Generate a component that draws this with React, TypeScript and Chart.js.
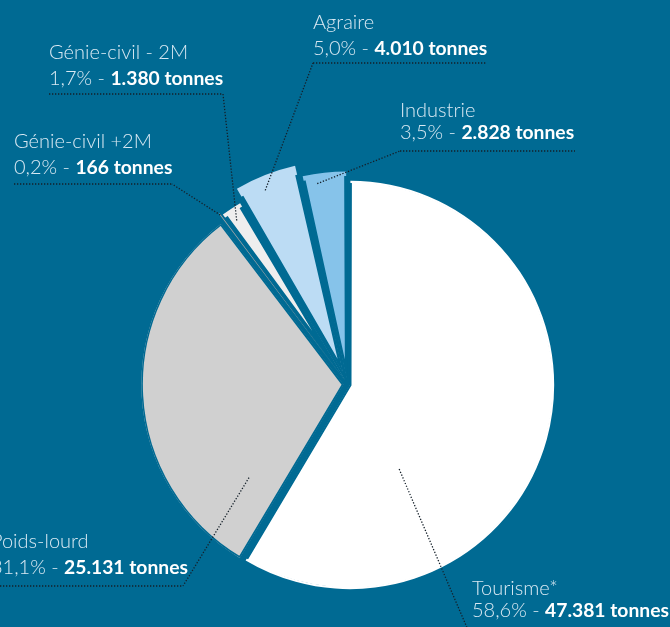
import React, { useEffect, useRef } from "react";
import { Chart, registerables } from "chart.js";

Chart.register(...registerables);

// ---- data ----
const categories = ["Tourisme*", "Poids-lourd", "Génie-civil +2M", "Génie-civil - 2M", "Agraire", "Industrie"];
const tonnes = [47381, 25131, 166, 1380, 4010, 2828];

// ---- styles ----
const BG = "#006a93";
const sliceColors = ["#ffffff", "#d0d0d0", "#a8a8a8", "#eeeeee", "#bcdcf4", "#86c3ea"];
const sliceOffsets = [10, 17, 24, 19, 55, 25];
const sliceBorders = [1.5, 1.5, 0, 3, 2, 2];

// label layout (text block positions, leader anchor inside each slice)
const labelX = [472, -9, 14, 49, 313, 400];
const nameBaseline = [595, 548, 148, 59, 29, 116.5];
const valueBaseline = [616.5, 574, 174, 85, 55, 138.5];
const underlineY = [630, 586, 184, 94, 63, 151];
const underlineX1 = [468, -9, 14, 49, 313, 400];
const underlineX2 = [668, 183, 172, 223, 486, 575];
const joinX = [468, 183, 172, 223, 313, 400];
const anchorAngleFrac = [0.71, 0.13, 0.5, 0.4, 0.41, 0.31];
const anchorRadiusFrac = [0.48, 0.66, 0.99, 0.95, 0.94, 0.96];

const total = tonnes.reduce((a, b) => a + b, 0);
const fmtPct = (v: number) => ((v / total) * 100).toFixed(1).replace(".", ",") + "%";
const fmtT = (v: number) => String(v).replace(/\B(?=(\d{3})+(?!\d))/g, ".") + " tonnes";

const FONT_FAMILY = "Lato, 'Open Sans', sans-serif";

const labelPlugin = {
  id: "sliceLabels",
  afterDatasetsDraw(chart: any) {
    const ctx: CanvasRenderingContext2D = chart.ctx;
    const meta = chart.getDatasetMeta(0);
    ctx.save();
    meta.data.forEach((arc: any, i: number) => {
      const p = arc.getProps(["x", "y", "startAngle", "endAngle", "outerRadius", "circumference"], true);
      const opts = arc.options;
      const t = (opts.offset || 0) / 4;
      const mid = (p.startAngle + p.endAngle) / 2;
      const cx = p.x + Math.cos(mid) * t;
      const cy = p.y + Math.sin(mid) * t;
      const fix = 1 - Math.sin(Math.min(Math.PI, p.circumference));
      const rr = p.outerRadius + t * fix - (opts.borderWidth || 0);
      const a = p.startAngle + (p.endAngle - p.startAngle) * anchorAngleFrac[i];
      const ax = cx + Math.cos(a) * rr * anchorRadiusFrac[i];
      const ay = cy + Math.sin(a) * rr * anchorRadiusFrac[i];

      // leader + underline
      ctx.beginPath();
      ctx.setLineDash([1.3, 1.7]);
      ctx.lineWidth = 1.3;
      ctx.strokeStyle = "#15202a";
      ctx.moveTo(ax, ay);
      ctx.lineTo(joinX[i], underlineY[i]);
      ctx.stroke();
      ctx.beginPath();
      ctx.moveTo(underlineX1[i], underlineY[i]);
      ctx.lineTo(underlineX2[i], underlineY[i]);
      ctx.stroke();
      ctx.setLineDash([]);

      // text
      ctx.textAlign = "left";
      ctx.textBaseline = "alphabetic";
      ctx.font = `300 20px ${FONT_FAMILY}`;
      ctx.fillStyle = "#d9e9f3";
      ctx.fillText(categories[i], labelX[i], nameBaseline[i]);
      const pre = fmtPct(tonnes[i]) + " - ";
      ctx.fillText(pre, labelX[i], valueBaseline[i]);
      const w = ctx.measureText(pre).width;
      ctx.font = `700 19.3px ${FONT_FAMILY}`;
      ctx.fillStyle = "#ffffff";
      ctx.fillText(fmtT(tonnes[i]), labelX[i] + w, valueBaseline[i]);
    });
    ctx.restore();
  },
};

export default function App() {
  const ref = useRef<HTMLCanvasElement | null>(null);

  useEffect(() => {
    document.body.style.margin = "0";
    document.body.style.background = BG;
    if (!ref.current) return;
    const chart = new Chart(ref.current, {
      type: "pie",
      data: {
        labels: categories,
        datasets: [
          {
            data: tonnes,
            backgroundColor: sliceColors,
            borderColor: BG,
            borderWidth: sliceBorders,
            borderAlign: "inner",
            offset: sliceOffsets,
            clip: false,
          } as any,
        ],
      },
      options: {
        responsive: false,
        animation: false,
        radius: 202,
        rotation: 0,
        events: [],
        layout: { padding: { left: 25.2, right: 0, top: 141.6, bottom: 0 } },
        plugins: {
          legend: { display: false },
          tooltip: { enabled: false },
        },
      } as any,
      plugins: [labelPlugin],
    });
    return () => chart.destroy();
  }, []);

  return (
    <div style={{ position: "fixed", left: 0, top: 0, width: 670, height: 627, background: BG, overflow: "hidden" }}>
      <canvas ref={ref} width={670} height={627} style={{ width: 670, height: 627, display: "block" }} />
    </div>
  );
}
